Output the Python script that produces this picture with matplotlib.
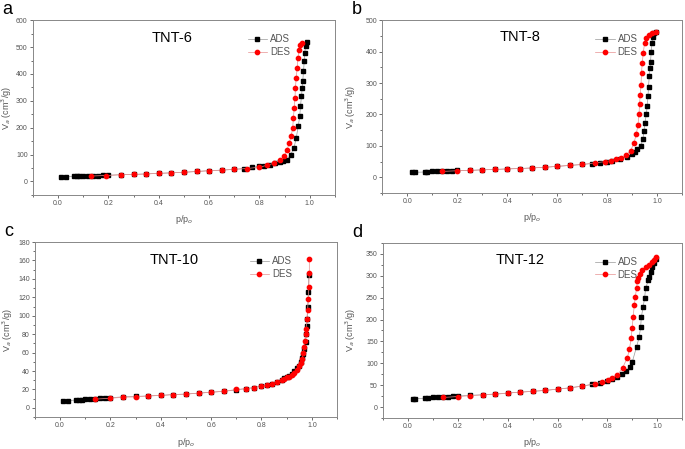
import matplotlib.pyplot as plt
from matplotlib.ticker import AutoMinorLocator

plt.rcParams['font.family'] = ['Liberation Sans', 'DejaVu Sans']

# TNT-6
a_ads_x = [0.01, 0.03, 0.065, 0.075, 0.085, 0.1, 0.12, 0.14, 0.16, 0.18, 0.2, 0.25, 0.3, 0.35, 0.4,
           0.45, 0.5, 0.55, 0.6, 0.65, 0.7, 0.74, 0.77, 0.8, 0.82, 0.84, 0.86, 0.88, 0.895, 0.91,
           0.924, 0.937, 0.946, 0.954, 0.96, 0.963, 0.967, 0.97, 0.972, 0.975, 0.978, 0.98, 0.983, 0.99]
a_ads_y = [16, 17, 19, 19, 20, 20, 21, 22, 22, 23, 23, 25, 26, 28, 30,
           32, 34, 37, 40, 42, 45, 48, 52, 56, 59, 63, 67, 73, 77, 80,
           100, 124, 161, 205, 242, 280, 317, 348, 373, 410, 447, 478, 503, 519]
a_des_x = [0.97, 0.963, 0.957, 0.953, 0.95, 0.946, 0.943, 0.941, 0.938, 0.935, 0.932, 0.926, 0.918,
           0.91, 0.897, 0.88, 0.858, 0.83, 0.8, 0.75, 0.7, 0.65, 0.6, 0.55, 0.5, 0.45, 0.4, 0.35,
           0.3, 0.25, 0.19, 0.13]
a_des_y = [515, 508, 490, 460, 422, 385, 348, 310, 273, 236, 199, 168, 143,
           118, 93, 78, 68, 60, 53, 48, 45, 42, 40, 37, 34, 32, 30, 28,
           26, 25, 22, 20]

# TNT-8
b_ads_x = [0.02, 0.03, 0.07, 0.08, 0.1, 0.12, 0.14, 0.16, 0.18, 0.2, 0.25, 0.3, 0.35, 0.4, 0.45,
           0.5, 0.55, 0.6, 0.65, 0.7, 0.74, 0.77, 0.8, 0.82, 0.85, 0.88, 0.9, 0.91, 0.92, 0.933,
           0.943, 0.947, 0.951, 0.956, 0.96, 0.963, 0.965, 0.968, 0.971, 0.973, 0.976, 0.979,
           0.981, 0.987, 0.993]
b_ads_y = [16, 16, 17, 18, 19, 20, 20, 21, 21, 22, 22, 24, 25, 27, 28,
           30, 32, 35, 38, 41, 44, 47, 50, 53, 58, 66, 75, 82, 90, 100,
           121, 147, 174, 200, 226, 258, 289, 321, 347, 368, 400, 426,
           447, 458, 461]
b_des_x = [0.993, 0.98, 0.967, 0.956, 0.949, 0.944, 0.94, 0.937, 0.935, 0.932, 0.929, 0.927, 0.923,
           0.916, 0.907, 0.893, 0.873, 0.853, 0.834, 0.814, 0.79, 0.75, 0.7, 0.65, 0.6, 0.55, 0.5,
           0.45, 0.4, 0.35, 0.3, 0.25, 0.2, 0.14]
b_des_y = [461, 458, 453, 442, 426, 395, 363, 332, 295, 263, 232, 200, 168,
           137, 110, 84, 70, 63, 58, 53, 50, 46, 41, 38, 35, 32, 30,
           28, 27, 25, 24, 22, 21, 19]

# TNT-10
c_ads_x = [0.01, 0.03, 0.065, 0.075, 0.085, 0.1, 0.12, 0.14, 0.16, 0.18, 0.2, 0.25, 0.3, 0.35, 0.4,
           0.45, 0.5, 0.55, 0.6, 0.65, 0.7, 0.74, 0.77, 0.8, 0.82, 0.84, 0.86, 0.88, 0.89, 0.9,
           0.91, 0.92, 0.93, 0.94, 0.95, 0.955, 0.96, 0.965, 0.97, 0.975, 0.978, 0.98, 0.982,
           0.984, 0.986, 0.988]
c_ads_y = [7, 8, 8.5, 9, 9, 9.5, 10, 10, 10.5, 11, 11, 12, 12.5, 13, 13.5,
           14.5, 15, 16, 17, 18, 19.5, 21, 22, 24, 25, 26, 28, 30, 32, 33,
           35, 37, 40, 43, 46, 50, 54, 58, 64, 72, 80, 89, 97,
           109, 126, 144]
c_des_x = [0.99, 0.99, 0.988, 0.986, 0.983, 0.98, 0.977, 0.975, 0.972, 0.97, 0.966, 0.962, 0.958,
           0.95, 0.94, 0.93, 0.92, 0.91, 0.9, 0.89, 0.88, 0.86, 0.84, 0.82, 0.8, 0.77, 0.74, 0.7,
           0.65, 0.6, 0.55, 0.5, 0.45, 0.4, 0.35, 0.3, 0.25, 0.2, 0.14]
c_des_y = [162, 146, 131, 118, 106, 97, 86, 80, 73, 66, 60, 53, 49,
           45, 41, 38, 36, 34, 33, 31, 30, 28, 26, 25, 24, 22, 21, 20,
           18, 17, 16, 15, 14.5, 13.5, 13, 12, 11.5, 10.5, 9.5]

# TNT-12
d_ads_x = [0.02, 0.03, 0.07, 0.08, 0.1, 0.12, 0.14, 0.16, 0.18, 0.2, 0.25, 0.3, 0.35, 0.4, 0.45,
           0.5, 0.55, 0.6, 0.65, 0.7, 0.74, 0.77, 0.8, 0.82, 0.84, 0.86, 0.875, 0.89, 0.9, 0.917,
           0.927, 0.933, 0.936, 0.943, 0.949, 0.953, 0.964, 0.967, 0.973, 0.98, 0.987, 0.993]
d_ads_y = [18, 19, 20, 21, 22, 22, 23, 24, 25, 25, 27, 28, 30, 32, 34,
           36, 38, 41, 44, 48, 52, 56, 60, 64, 69, 75, 82, 91, 104, 138,
           159, 182, 206, 228, 249, 271, 290, 296, 308, 319, 328, 338]
d_des_x = [0.996, 0.987, 0.977, 0.967, 0.953, 0.94, 0.931, 0.923, 0.92, 0.917, 0.912, 0.908, 0.903,
           0.899, 0.895, 0.888, 0.88, 0.861, 0.84, 0.817, 0.803, 0.78, 0.75, 0.7, 0.65, 0.6, 0.55,
           0.5, 0.45, 0.4, 0.35, 0.3, 0.25, 0.2, 0.14]
d_des_y = [342, 337, 331, 325, 319, 312, 304, 295, 287, 273, 252, 234, 205,
           180, 157, 132, 113, 90, 73, 66, 61, 57, 53, 48, 44, 41, 38,
           36, 34, 32, 29, 28, 26, 24, 22]

letters = ["a", "b", "c", "d"]
names = ["TNT-6", "TNT-8", "TNT-10", "TNT-12"]
series = [(a_ads_x, a_ads_y, a_des_x, a_des_y), (b_ads_x, b_ads_y, b_des_x, b_des_y),
          (c_ads_x, c_ads_y, c_des_x, c_des_y), (d_ads_x, d_ads_y, d_des_x, d_des_y)]
y_limits = [(-50, 600), (-50, 500), (-10, 180), (-25, 375)]
y_steps = [100, 100, 20, 50]

# layout
rects = [[0.048, 0.566, 0.441, 0.389], [0.558, 0.570, 0.438, 0.385],
         [0.051, 0.071, 0.441, 0.390], [0.559, 0.069, 0.437, 0.390]]
ylabel_x = [-0.061, -0.08, -0.066, -0.084]

fig = plt.figure(figsize=(6.85, 4.49), dpi=100)
grey = "#555555"

for i in range(4):
    ax = fig.add_axes(rects[i])
    ads_x, ads_y, des_x, des_y = series[i]
    ax.plot(ads_x, ads_y, color="#999999", lw=0.5, marker="s", ms=2.6,
            mfc="black", mec="black", label="ADS")
    ax.plot(des_x, des_y, color="#e89090", lw=0.5, marker="o", ms=3.1,
            mfc="red", mec="red", label="DES")
    ax.set_xlim(-0.1, 1.1)
    ax.set_ylim(*y_limits[i])
    ax.set_xticks([0.0, 0.2, 0.4, 0.6, 0.8, 1.0])
    ax.set_yticks(range(0, y_limits[i][1] + 1, y_steps[i]))
    ax.xaxis.set_minor_locator(AutoMinorLocator(2))
    ax.yaxis.set_minor_locator(AutoMinorLocator(2))
    ax.tick_params(which="both", direction="out", colors=grey, labelsize=5, width=0.6, pad=1.5)
    ax.tick_params(which="major", length=2.2)
    ax.tick_params(which="minor", length=1.2)
    for s in ax.spines.values():
        s.set_color("#888888")
        s.set_linewidth(0.7)
    ax.set_xlabel("p/p$_o$", color=grey, fontsize=6.5)
    ax.set_ylabel("V$_a$ (cm$^3$/g)", color=grey, fontsize=6.5)
    ax.xaxis.set_label_coords(0.5, -0.105)
    ax.yaxis.set_label_coords(ylabel_x[i], 0.5)
    ax.text(0.46, 0.9, names[i], transform=ax.transAxes, ha="center", va="center", fontsize=10.5)
    leg = ax.legend(loc="upper right", bbox_to_anchor=(0.88, 0.97), frameon=False,
                    fontsize=7, handlelength=2.0, handletextpad=0.3, labelspacing=0.3)
    for t in leg.get_texts():
        t.set_color(grey)
    bb = ax.get_position()
    fig.text(bb.x0 - 0.045, bb.y1 + 0.005, letters[i], fontsize=13, ha="left", va="bottom")

plt.savefig("out.png", dpi=100)
